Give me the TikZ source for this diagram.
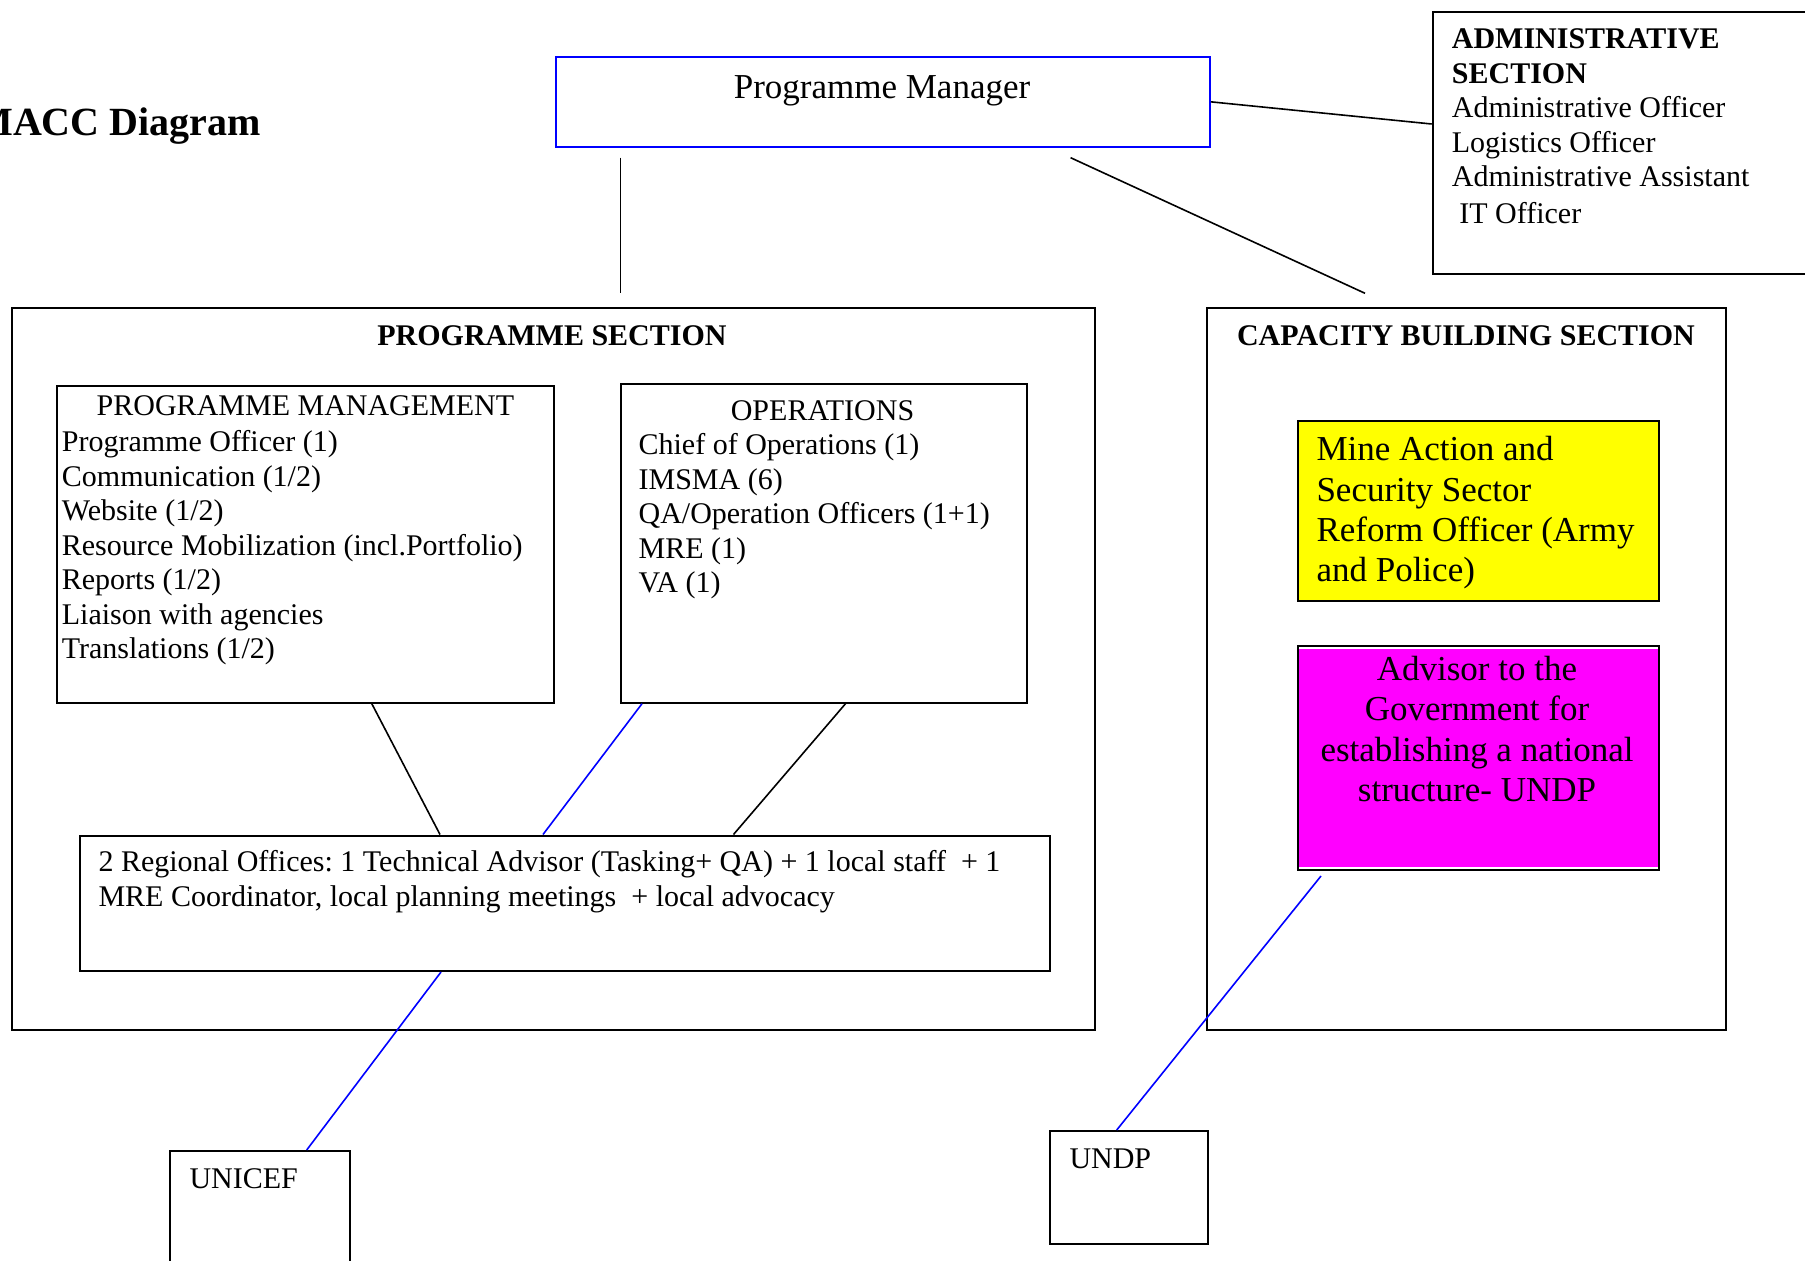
\documentclass[tikz,border=0pt]{standalone}
\usepackage{fontspec}
\setmainfont{Liberation Serif}
\usetikzlibrary{calc}
\setlength\parindent{0pt}
\frenchspacing
\definecolor{pmblue}{RGB}{0,0,255}
\definecolor{yel}{RGB}{255,255,0}
\definecolor{mag}{RGB}{255,0,255}
% rigid natural word spacing inside aligned nodes, plus a fixed first-line height
\newcommand\plainstart[1]{\spaceskip=\fontdimen2\font\relax\xspaceskip=\fontdimen2\font\relax\rule{0pt}{#1}}

\begin{document}
\begin{tikzpicture}[x=1pt,y=-1pt,
  box/.style={draw,line width=2pt,inner sep=0pt,anchor=north west},
  link/.style={line width=1.6pt},
  txt/.style={inner sep=0pt,font=\fontsize{30}{34.5}\selectfont},
  hdr/.style={inner sep=0pt,font=\bfseries\fontsize{30}{34.5}\selectfont,anchor=base},
  lrg/.style={inner sep=0pt,font=\fontsize{35}{40.2}\selectfont},
  list/.style={txt,align=left,anchor=north west,execute at begin node={\plainstart{24pt}}},
  biglist/.style={lrg,anchor=north west,execute at begin node={\plainstart{28pt}}},
]
\useasboundingbox (0,0) rectangle (1805,1261);

% title
\node[inner sep=0pt,anchor=base east,font=\bfseries\fontsize{40}{46}\selectfont] (title) at (261,135) {MACC Diagram};

% programme manager
\node[box,draw=pmblue,minimum width=654pt,minimum height=90.3pt] (pm) at (555,55.7) {};
\node[lrg,anchor=base] (pmt) at (882,98.3) {Programme Manager};

% administrative section
\node[box,minimum width=390pt,minimum height=262pt] (adm) at (1431.7,10.7) {};
\node[list,text width=340pt] (admt) at (1451.7,24.3) {\textbf{ADMINISTRATIVE}\\\textbf{SECTION}\\Administrative Officer\\Logistics Officer\\Administrative Assistant\\[2pt]\hspace*{0.25em}IT Officer};

% programme section
\node[box,minimum width=1083.1pt,minimum height=721.8pt] (prog) at (10.5,306.7) {};
\node[hdr] (progt) at (552,345) {PROGRAMME SECTION};

% capacity building section
\node[box,minimum width=519pt,minimum height=721.8pt] (cap) at (1206.4,306.7) {};
\node[hdr] (capt) at (1466,345.2) {CAPACITY BUILDING SECTION};

% programme management
\node[box,minimum width=496.7pt,minimum height=316.7pt] (pmg) at (56.1,385) {};
\node[txt,anchor=base] (pmgh) at (305.5,415) {PROGRAMME MANAGEMENT};
\node[list,text width=480pt] (pmgt) at (61.7,427.3) {Programme Officer (1)\\Communication (1/2)\\Website (1/2)\\Resource Mobilization (incl.Portfolio)\\Reports (1/2)\\Liaison with agencies\\Translations (1/2)};

% operations
\node[box,minimum width=406.2pt,minimum height=318.4pt] (ops) at (620.1,383.3) {};
\node[txt,anchor=base] (opsh) at (822.5,420) {OPERATIONS};
\node[list,text width=380pt] (opst) at (638.4,430.6) {Chief of Operations (1)\\IMSMA (6)\\QA/Operation Officers (1+1)\\MRE (1)\\VA (1)};

% regional offices
\node[box,minimum width=970.4pt,minimum height=135.5pt] (reg) at (78.6,834.5) {};
\node[list,text width=945pt] (regt) at (98.3,847.7) {2 Regional Offices: 1 Technical Advisor (Tasking+ QA) + 1 local staff\ \ + 1\\MRE Coordinator, local planning meetings\ \ + local advocacy};

% mine action officer
\node[box,fill=yel,minimum width=361.5pt,minimum height=180.6pt] (mine) at (1296.5,419.8) {};
\node[biglist,align=left,text width=345pt] (minet) at (1316.3,432.7) {Mine Action and\\Security Sector\\Reform Officer (Army\\and Police)};

% government advisor
\node[box,fill=mag,minimum width=361pt,minimum height=224.3pt,
  path picture={
    \fill[white] (path picture bounding box.north west) rectangle ([yshift=-3pt]path picture bounding box.north east);
    \fill[white] ([yshift=3pt]path picture bounding box.south west) rectangle (path picture bounding box.south east);
  }] (adv) at (1296.7,645) {};
\node[biglist,anchor=north,align=center,text width=361pt,font=\fontsize{35}{40.5}\selectfont] (advt) at (1477,652) {Advisor to the\\Government for\\establishing a national\\structure- UNDP};

% partner agencies
\node[box,minimum width=180pt,minimum height=130pt] (unicef) at (169.3,1150) {};
\node[txt,anchor=base west] (uniceft) at (189.3,1188.3) {UNICEF};
\node[box,minimum width=157.7pt,minimum height=112.7pt] (undp) at (1049,1130) {};
\node[txt,anchor=base west] (undpt) at (1069.3,1168) {UNDP};

% connectors
\draw[link] (pm.east) -- ([yshift=18.7pt]adm.west);
\coordinate (pmdown) at (620.5,157.5);
\coordinate (progup) at (620.5,293.3);
\draw[link] (pmdown) -- (progup);
\coordinate (pmdiag) at (1070.6,157.7);
\coordinate (capup) at (1365,293.3);
\draw[link] (pmdiag) -- (capup);
\draw[link] (pmg.south -| 371.8,0) -- (reg.north -| 440,0);
\draw[link,draw=pmblue] (ops.south -| 642,0) -- (reg.north -| 543,0);
\draw[link] (ops.south -| 845.5,0) -- (reg.north -| 733.5,0);
\draw[link,draw=pmblue] (reg.south -| 441,0) -- (unicef.north -| 306.7,0);
\coordinate (advfoot) at (1321,876);
\draw[link,draw=pmblue] (advfoot) -- (undp.north -| 1116.7,0);
\end{tikzpicture}
\end{document}
